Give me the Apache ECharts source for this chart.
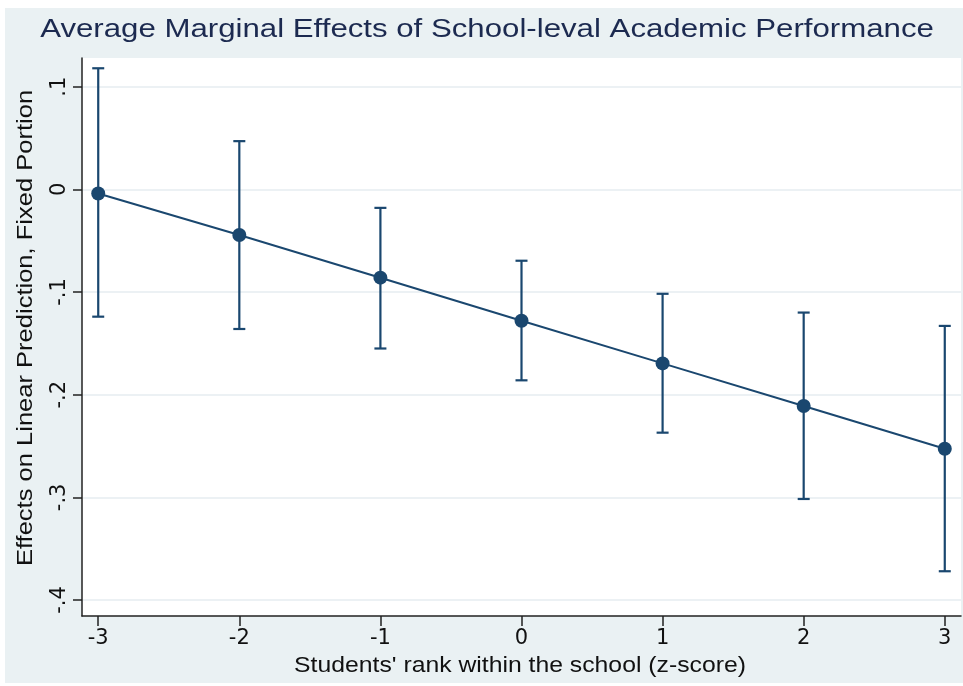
<!DOCTYPE html>
<html>
<head>
<meta charset="utf-8">
<script src="https://cdn.jsdelivr.net/npm/echarts@6/dist/echarts.min.js"></script>
<style>html,body{margin:0;padding:0;background:#fff;}#c{width:963px;height:686px;}</style>
</head>
<body>
<div id="c"></div>
<script>
const xValues = [-3, -2, -1, 0, 1, 2, 3];
const margins = [-0.004, -0.0445, -0.086, -0.128, -0.1695, -0.211, -0.2526];
const ciUpper = [0.118, 0.047, -0.018, -0.0695, -0.1017, -0.120, -0.133];
const ciLower = [-0.124, -0.136, -0.155, -0.186, -0.237, -0.3016, -0.372];
const yTicks = [-0.4, -0.3, -0.2, -0.1, 0, 0.1];
const xTicks = [-3, -2, -1, 0, 1, 2, 3];
const yTickLabels = ['-.4', '-.3', '-.2', '-.1', '0', '.1'];
const titleText = 'Average Marginal Effects of School-leval Academic Performance';
const xName = "Students' rank within the school (z-score)";
const yName = 'Effects on Linear Prediction, Fixed Portion';

const navy = '#1a476f';
const font = '"Liberation Sans", Arial, sans-serif';
const tickFont = '"DejaVu Sans", sans-serif';

const chart = echarts.init(document.getElementById('c'));
chart.setOption({
  backgroundColor: '#ffffff',
  animation: false,
  graphic: [
    {
      type: 'rect', z: -10, silent: true,
      shape: { x: 5, y: 8, width: 958, height: 675 },
      style: { fill: '#eaf1f3' }
    },
    {
      type: 'text', silent: true, x: 487, y: 30, scaleX: 1.2,
      style: { text: titleText, font: '26px ' + font, fill: '#1c2a50', textAlign: 'center', verticalAlign: 'middle' }
    },
    {
      type: 'text', silent: true, x: 520, y: 666, scaleX: 1.125,
      style: { text: xName, font: '22px ' + font, fill: '#111', textAlign: 'center', verticalAlign: 'middle' }
    },
    {
      type: 'text', silent: true, x: 26, y: 328, rotation: Math.PI / 2, scaleX: 1.16,
      style: { text: yName, font: '22px ' + font, fill: '#111', textAlign: 'center', verticalAlign: 'middle' }
    }
  ],
  grid: {
    left: 82, top: 58, right: 2, bottom: 70,
    show: true, backgroundColor: '#ffffff', borderWidth: 0
  },
  xAxis: {
    type: 'value', min: -3.115, max: 3.115,
    axisLine: { show: true, onZero: false, lineStyle: { color: '#222', width: 1.5 } },
    axisTick: { show: true, length: 10, customValues: xTicks, lineStyle: { color: '#222', width: 1.5 } },
    axisLabel: { customValues: xTicks, fontFamily: tickFont, fontSize: 21, color: '#111', margin: 12,
      formatter: v => String(v) },
    splitLine: { show: false }
  },
  yAxis: {
    type: 'value', min: -0.4156, max: 0.128,
    axisLine: { show: true, onZero: false, lineStyle: { color: '#222', width: 1.5 } },
    axisTick: { show: true, length: 9, customValues: yTicks, lineStyle: { color: '#222', width: 1.5 } },
    axisLabel: { customValues: yTicks, rotate: 90, fontFamily: tickFont, fontSize: 21, color: '#111', margin: 12,
      formatter: v => yTickLabels[yTicks.findIndex(t => Math.abs(t - v) < 1e-9)] },
    splitLine: { show: true, lineStyle: { color: '#e6edf0', width: 1.5 } }
  },
  series: [
    {
      type: 'custom',
      data: xValues.map((x, i) => [x, ciLower[i], ciUpper[i]]),
      renderItem: function (params, api) {
        const x = api.value(0);
        const lo = api.coord([x, api.value(1)]);
        const hi = api.coord([x, api.value(2)]);
        const hw = 6;
        const st = { stroke: navy, lineWidth: 2.2 };
        return {
          type: 'group',
          children: [
            { type: 'line', shape: { x1: lo[0], y1: lo[1], x2: hi[0], y2: hi[1] }, style: st },
            { type: 'line', shape: { x1: lo[0] - hw, y1: lo[1], x2: lo[0] + hw, y2: lo[1] }, style: st },
            { type: 'line', shape: { x1: hi[0] - hw, y1: hi[1], x2: hi[0] + hw, y2: hi[1] }, style: st }
          ]
        };
      },
      z: 2
    },
    {
      type: 'line',
      data: xValues.map((x, i) => [x, margins[i]]),
      symbol: 'circle', symbolSize: 14,
      lineStyle: { color: navy, width: 2 },
      itemStyle: { color: navy },
      z: 3
    }
  ]
});
</script>
</body>
</html>
